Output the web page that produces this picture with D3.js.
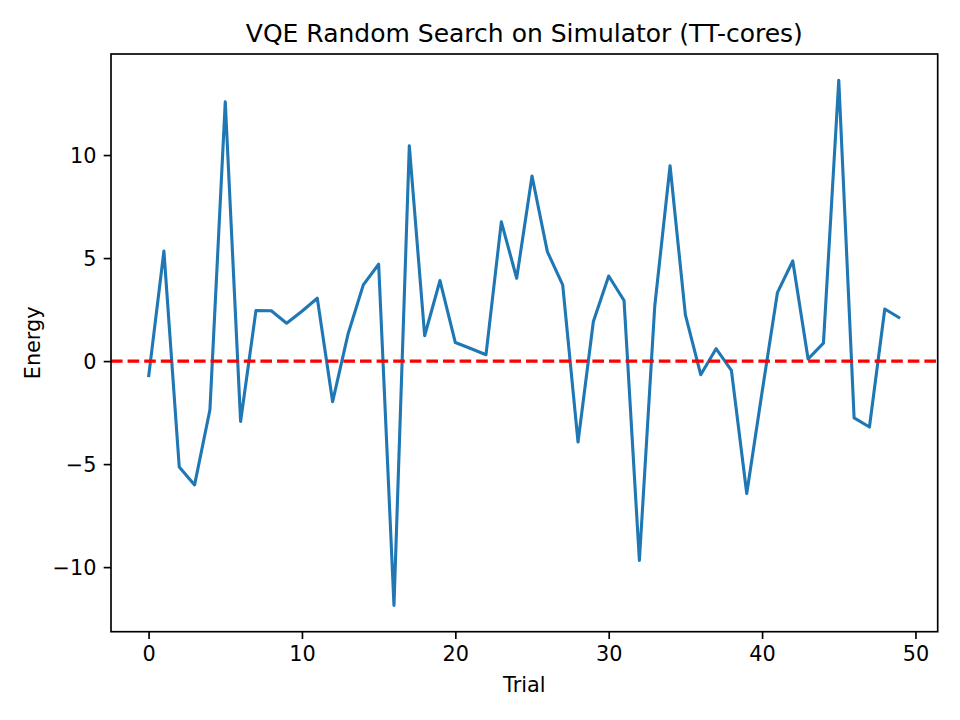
<!DOCTYPE html>
<html>
<head>
<meta charset="utf-8">
<script src="https://cdn.jsdelivr.net/npm/d3@7"></script>
<style>
  body { margin: 0; background: #fff; }
  svg { display: block; font-family: "DejaVu Sans", sans-serif; }
</style>
</head>
<body>
<div id="chart"></div>
<script>
'use strict';

// trial index and measured energy per trial
var trials = d3.range(0, 50);
var energies = [
    -0.78, 5.34, -5.14, -6.01, -2.36, 12.58, -2.93, 2.45, 2.44, 1.84,
    2.42, 3.05, -1.97, 1.30, 3.70, 4.70, -11.86, 10.45, 1.23, 3.91,
    0.90, 0.61, 0.31, 6.76, 4.02, 8.98, 5.31, 3.70, -3.93, 1.92,
    4.13, 2.94, -9.68, 2.65, 9.48, 2.24, -0.66, 0.60, -0.45, -6.43,
    -1.50, 3.32, 4.86, 0.10, 0.87, 13.63, -2.76, -3.20, 2.53, 2.08
];
var xTicks = [0, 10, 20, 30, 40, 50];
var yTicks = [-10, -5, 0, 5, 10];
var reference = 0;

var WIDTH = 960, HEIGHT = 720;
var margin = { top: 54, right: 22.3, bottom: 88.3, left: 111 };
var plotW = WIDTH - margin.left - margin.right;
var plotH = HEIGHT - margin.top - margin.bottom;

// matplotlib-style 5% auto margins
function padded(lo, hi) {
    var p = (hi - lo) * 0.05;
    return [lo - p, hi + p];
}

var svg = d3.select("#chart").append("svg")
    .attr("width", WIDTH)
    .attr("height", HEIGHT);

var g = svg.append("g")
    .attr("transform", "translate(" + margin.left + "," + margin.top + ")");

var x = d3.scaleLinear()
    .domain(padded(d3.min(trials), d3.max(trials)))
    .range([0, plotW]);
var y = d3.scaleLinear()
    .domain(padded(d3.min(energies), d3.max(energies)))
    .range([plotH, 0]);

var clip = svg.append("defs").append("clipPath").attr("id", "plotclip");
clip.append("rect").attr("width", plotW).attr("height", plotH);

var plot = g.append("g").attr("clip-path", "url(#plotclip)");

var line = d3.line()
    .x(function (d, i) { return x(trials[i]); })
    .y(function (d) { return y(d); });

plot.append("path")
    .datum(energies)
    .attr("fill", "none")
    .attr("stroke", "#1f77b4")
    .attr("stroke-width", 3.1)
    .attr("stroke-linejoin", "round")
    .attr("stroke-linecap", "butt")
    .attr("d", line);

plot.append("line")
    .attr("x1", 0)
    .attr("x2", plotW)
    .attr("y1", y(reference))
    .attr("y2", y(reference))
    .attr("stroke", "red")
    .attr("stroke-width", 3.1)
    .attr("stroke-dasharray", "11.6,5");

// axes
var xAxis = d3.axisBottom(x).tickValues(xTicks).tickSize(7.3).tickPadding(7.3)
    .tickFormat(d3.format("d"));
var yAxis = d3.axisLeft(y).tickValues(yTicks).tickSize(7.3).tickPadding(7.3)
    .tickFormat(function (d) { return d < 0 ? "\u2212" + Math.abs(d) : d; });

var xg = g.append("g")
    .attr("transform", "translate(0," + plotH + ")")
    .call(xAxis);
var yg = g.append("g").call(yAxis);

[xg, yg].forEach(function (a) {
    a.select(".domain").remove();
    a.selectAll(".tick line").attr("stroke", "#000").attr("stroke-width", 1.67);
    a.selectAll(".tick text")
        .attr("fill", "#000")
        .style("font-family", "'DejaVu Sans', sans-serif")
        .style("font-size", "20.8px");
});
yg.selectAll(".tick text").attr("dy", "0.36em");

// frame
g.append("rect")
    .attr("width", plotW)
    .attr("height", plotH)
    .attr("fill", "none")
    .attr("stroke", "#000")
    .attr("stroke-width", 1.67);

// labels
svg.append("text")
    .attr("x", margin.left + plotW / 2)
    .attr("y", 41.5)
    .attr("text-anchor", "middle")
    .style("font-size", "25px")
    .text("VQE Random Search on Simulator (TT-cores)");

svg.append("text")
    .attr("x", margin.left + plotW / 2)
    .attr("y", 692)
    .attr("text-anchor", "middle")
    .style("font-size", "20.8px")
    .text("Trial");

svg.append("text")
    .attr("transform", "translate(40," + (margin.top + plotH / 2) + ") rotate(-90)")
    .attr("text-anchor", "middle")
    .style("font-size", "20.8px")
    .text("Energy");
</script>
</body>
</html>
